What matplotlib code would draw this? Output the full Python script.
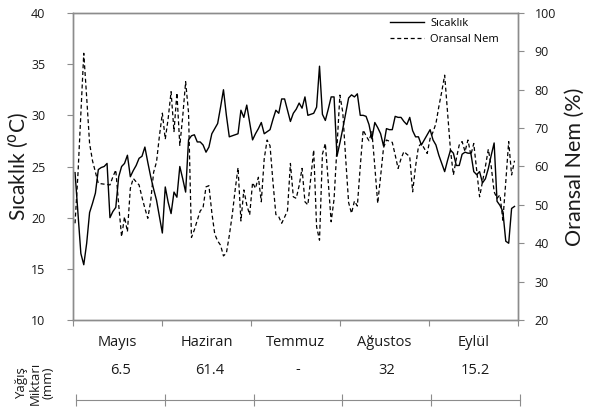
import matplotlib
matplotlib.use("Agg")
import matplotlib.pyplot as plt
import numpy as np

plt.rcParams['font.family'] = ['Open Sans', 'DejaVu Sans']

# ---- data (daily values, May–September) ----
temperature = [
    24.4, 20.5, 16.5, 15.4, 17.5, 20.5, 21.4, 22.4, 24.7, 24.9,
    25.0, 25.3, 20.0, 20.6, 21.0, 24.0, 25.0, 25.3, 26.1, 24.0,
    24.6, 25.1, 25.8, 26.0, 26.9, 25.4, 24.0, 22.8, 21.7, 20.1,
    18.5, 23.0, 21.5, 20.4, 22.5, 22.0, 25.0, 23.8, 22.5, 27.6,
    28.0, 28.1, 27.4, 27.4, 27.1, 26.4, 26.9, 28.2, 28.7, 29.2,
    30.8, 32.5, 30.0, 27.9, 28.0, 28.1, 28.2, 30.5, 29.8, 31.0,
    29.3, 27.6, 28.2, 28.7, 29.3, 28.2, 28.4, 28.6, 29.6, 30.5,
    30.2, 31.6, 31.6, 30.5, 29.4, 30.2, 30.6, 31.2, 30.7, 31.8,
    30.0, 30.1, 30.2, 30.8, 34.8, 30.1, 29.5, 30.6, 31.8, 31.8,
    26.0, 27.3, 28.7, 30.2, 31.7, 32.0, 31.8, 32.1, 30.0, 30.0,
    29.9, 29.1, 27.7, 29.3, 28.8, 28.2, 27.0, 28.7, 28.6, 28.6,
    29.9, 29.8, 29.8, 29.4, 29.1, 29.8, 28.5, 27.9, 27.9, 27.1,
    27.6, 28.1, 28.6, 27.6, 27.1, 26.1, 25.3, 24.5, 25.6, 26.6,
    26.3, 25.1, 25.1, 26.2, 26.4, 26.3, 26.3, 24.5, 24.2, 24.5,
    23.4, 23.8, 24.8, 26.1, 27.3, 21.6, 21.2, 20.6, 17.7, 17.5,
    20.9, 21.1,
]
humidity = [
    45.2, 58.0, 74.0, 89.5, 78.0, 66.0, 61.5, 58.6, 55.6, 55.5,
    55.4, 55.3, 55.2, 57.3, 59.1, 50.0, 41.7, 46.9, 43.0, 54.3,
    56.9, 56.0, 55.2, 52.0, 49.1, 46.5, 51.0, 58.5, 61.2, 68.0,
    73.9, 67.1, 72.5, 79.5, 69.1, 79.2, 65.5, 73.0, 82.1, 74.0,
    41.5, 43.5, 46.0, 48.4, 49.3, 54.7, 55.0, 48.0, 42.4, 40.6,
    39.5, 36.7, 37.4, 42.0, 47.3, 53.8, 59.7, 45.8, 53.9, 50.0,
    47.4, 55.8, 54.3, 57.2, 50.8, 62.0, 66.9, 65.4, 56.0, 47.5,
    46.9, 45.2, 46.8, 48.5, 60.8, 52.1, 51.7, 55.0, 59.5, 50.8,
    50.0, 57.0, 64.3, 44.3, 40.8, 63.2, 66.0, 56.0, 45.6, 51.5,
    65.0, 78.6, 74.1, 62.0, 50.6, 47.8, 51.0, 49.7, 60.0, 69.5,
    68.0, 66.7, 69.1, 60.0, 50.4, 57.5, 64.9, 66.9, 66.6, 66.3,
    63.0, 59.5, 62.0, 63.9, 63.2, 62.6, 53.4, 60.0, 65.2, 66.0,
    64.7, 63.4, 67.3, 69.0, 71.2, 75.6, 79.5, 83.8, 74.0, 64.3,
    57.8, 62.0, 65.6, 66.5, 63.9, 66.9, 63.0, 66.0, 59.0, 52.1,
    56.0, 60.0, 64.5, 60.0, 53.4, 51.7, 52.6, 46.0, 56.0, 66.5,
    57.8, 61.5,
]
months = ["Mayıs", "Haziran", "Temmuz", "Ağustos", "Eylül"]
rain_labels = ["6.5", "61.4", "-", "32", "15.2"]

GRAY = "#8c8c8c"
TXT = "#1a1a1a"

fig = plt.figure(figsize=(5.94, 4.07), dpi=100)
W, H = 594, 407
ax = fig.add_axes([73 / W, 1 - 320 / H, (518 - 73) / W, (320 - 13) / H])

days = np.arange(len(temperature))
x0, x1 = -0.7, 152.2
l1, = ax.plot(days, temperature, color="black", lw=1.0, label="Sıcaklık")
ax.set_xlim(x0, x1)
ax.set_ylim(10, 40)
ax.set_yticks(np.arange(10, 41, 5))

ax2 = ax.twinx()
l2, = ax2.plot(days, humidity, color="black", lw=0.9, ls=(0, (3.2, 2.2)),
               label="Oransal Nem")
ax2.set_ylim(20, 100)
ax2.set_yticks(np.arange(20, 101, 10))

bounds = np.linspace(x0, x1, len(months) + 1)
centers = (bounds[:-1] + bounds[1:]) / 2
ax.set_xticks(bounds)
ax.set_xticklabels([])
ax.set_xticks(centers, minor=True)
ax.set_xticklabels(months, minor=True, fontsize=10.5, color=TXT)
ax.tick_params(axis="x", which="minor", length=0, pad=11)
ax.tick_params(axis="x", which="major", length=4, color=GRAY, direction="out")
ax.tick_params(axis="y", length=4, color=GRAY, labelsize=9, colors=TXT, pad=16)
ax2.tick_params(axis="y", length=4, color=GRAY, labelsize=9, colors=TXT, pad=8)
for a in (ax, ax2):
    for s in a.spines.values():
        s.set_color(GRAY)
        s.set_linewidth(1.0)

ax.set_ylabel("Sıcaklık ($^{\\mathrm{o}}$C)", fontsize=15, color=TXT,
              family=["Lato", "DejaVu Sans"])
ax.yaxis.label.set_va("center")
ax.yaxis.set_label_coords((19 - 73) / 445, 0.5)
ax2.set_ylabel("Oransal Nem (%)", fontsize=15.5, color=TXT, labelpad=6,
               family=["Lato", "DejaVu Sans"])

fig.legend(handles=[l1, l2], loc="upper left",
           bbox_to_anchor=(388 / W, 1 - 16 / H), frameon=False,
           fontsize=8, handlelength=3.0, handletextpad=0.6,
           labelspacing=0.4, borderaxespad=0, borderpad=0.2)

# ---- precipitation row ----
axr = fig.add_axes([76 / W, 1 - 400 / H, (520 - 76) / W, 30 / H])
axr.set_xlim(0, len(months))
axr.set_ylim(0, 1)
for s in ("top", "left", "right"):
    axr.spines[s].set_visible(False)
axr.spines["bottom"].set_color(GRAY)
axr.set_yticks([])
axr.set_xticks(np.arange(len(months) + 1))
axr.set_xticklabels([])
axr.tick_params(axis="x", direction="inout", length=8, color=GRAY)
for i, t in enumerate(rain_labels):
    axr.text(i + 0.5, 1.0, t, ha="center", va="center", fontsize=10.5, color=TXT)
axr.patch.set_visible(False)

fig.text(35 / W, 1 - 383 / H, "Yağış\nMiktarı\n(mm)", rotation=90,
         ha="center", va="center", multialignment="center",
         fontsize=9.5, color=TXT, linespacing=1.0)

fig.savefig("out.png", dpi=100)
